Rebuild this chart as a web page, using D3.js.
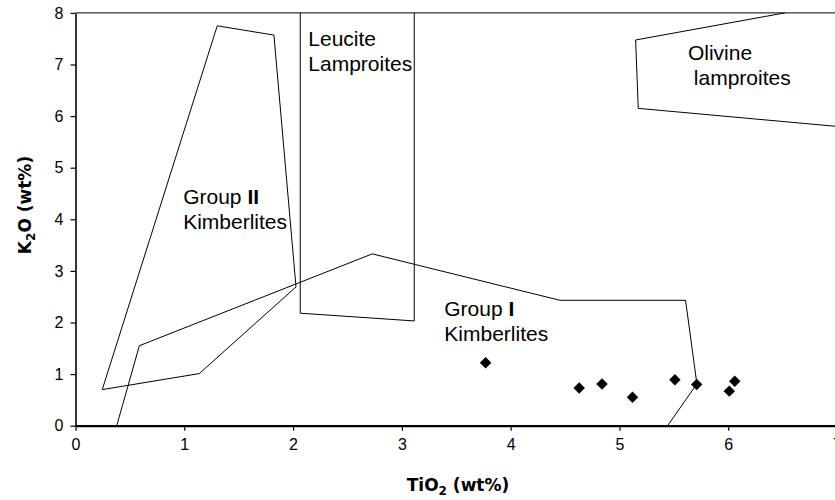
<!DOCTYPE html>
<html>
<head>
<meta charset="utf-8">
<script src="https://cdn.jsdelivr.net/npm/d3@7"></script>
<style>
  html, body { margin: 0; padding: 0; background: #fff; }
  svg { display: block; }
  text { font-family: "Liberation Sans", Arial, sans-serif; fill: #000; }
</style>
</head>
<body>
<svg id="chart" width="835" height="500"></svg>
<script>
// ---- data ----
const xTicks = [0, 1, 2, 3, 4, 5, 6, 7];
const yTicks = [0, 1, 2, 3, 4, 5, 6, 7, 8];

// TiO2, K2O sample points
const sampleTiO2 = [3.77, 4.63, 4.84, 5.12, 5.51, 5.71, 6.01, 6.06];
const sampleK2O  = [1.22, 0.73, 0.81, 0.55, 0.89, 0.80, 0.67, 0.86];

// field boundaries [TiO2, K2O]
const groupIIField   = [[0.246, 0.70], [1.303, 7.75], [1.824, 7.57], [2.027, 2.69], [1.138, 1.01], [0.246, 0.70]];
const groupIField    = [[0.379, 0.0], [0.587, 1.55], [2.728, 3.33], [4.453, 2.43], [5.608, 2.43], [5.712, 0.81], [5.443, 0.0]];
const leuciteField   = [[2.066, 8.0], [2.066, 2.18], [3.114, 2.03], [3.114, 8.0]];
const olivineField   = [[6.52, 8.0], [5.149, 7.475], [5.173, 6.15], [7.0, 5.80]];

// field labels: [TiO2, K2O, line1, line2, romanNumeral]
const fieldLabels = [
  { x: 0.99, y: 4.30, lines: ["Group ", "Kimberlites"], bold: "II" },
  { x: 3.39, y: 2.13, lines: ["Group ", "Kimberlites"], bold: "I" },
  { x: 2.14, y: 7.36, lines: ["Leucite", "Lamproites"], bold: "" },
  { x: 5.63, y: 7.08, lines: ["Olivine", " lamproites"], bold: "" }
];

// ---- drawing ----
const svg = d3.select("#chart");
const x = d3.scaleLinear().domain([0, 7]).range([75.5, 837]);
const y = d3.scaleLinear().domain([0, 8]).range([425.7, 12.9]);

// top border line at K2O = 8
svg.append("line")
  .attr("x1", x(0)).attr("x2", x(7))
  .attr("y1", y(8)).attr("y2", y(8))
  .attr("stroke", "#000").attr("stroke-width", 1);

const line = d3.line().x(d => x(d[0])).y(d => y(d[1]));
[groupIIField, groupIField, leuciteField, olivineField].forEach(f => {
  svg.append("path")
    .attr("d", line(f))
    .attr("fill", "none")
    .attr("stroke", "#000")
    .attr("stroke-width", 1);
});

// axes
const yAxis = svg.append("g")
  .attr("transform", `translate(${x(0)},0)`)
  .call(d3.axisLeft(y).tickValues(yTicks).tickSize(5).tickSizeOuter(0).tickPadding(7).tickFormat(d3.format("d")));
yAxis.select(".domain").attr("stroke-width", 1.6);
yAxis.selectAll(".tick line").attr("stroke-width", 1.2);
yAxis.selectAll("text").style("font-size", "16px").style("font-family", "Liberation Sans, Arial, sans-serif");

const xAxis = svg.append("g")
  .attr("transform", `translate(0,${y(0)})`)
  .call(d3.axisBottom(x).tickValues(xTicks).tickSize(5).tickSizeOuter(0).tickPadding(8).tickFormat(d3.format("d")));
xAxis.select(".domain").attr("stroke-width", 2.2);
xAxis.selectAll(".tick line").attr("stroke-width", 1.2);
xAxis.selectAll("text").style("font-size", "16px").style("font-family", "Liberation Sans, Arial, sans-serif");

// sample points (diamonds)
const diamond = d3.symbol().type(d3.symbolSquare).size(66);
svg.append("g").selectAll("path")
  .data(sampleTiO2.map((t, i) => [t, sampleK2O[i]]))
  .join("path")
  .attr("d", diamond)
  .attr("transform", d => `translate(${x(d[0])},${y(d[1])}) rotate(45)`)
  .attr("fill", "#000");

// field labels
fieldLabels.forEach(l => {
  const t = svg.append("text")
    .attr("x", x(l.x)).attr("y", y(l.y))
    .style("font-size", "21px");
  t.append("tspan").attr("x", x(l.x)).text(l.lines[0]);
  if (l.bold) t.append("tspan").style("font-weight", "bold").text(l.bold);
  t.append("tspan").attr("x", x(l.x)).attr("dy", 25).text(l.lines[1]);
});
svg.selectAll("text").attr("xml:space", "preserve");

// axis titles
const xt = svg.append("text")
  .attr("x", 458).attr("y", 491)
  .attr("text-anchor", "middle")
  .style("font-family", "DejaVu Sans, Verdana, sans-serif")
  .style("font-weight", "bold").style("font-size", "17px");
xt.append("tspan").text("TiO");
xt.append("tspan").attr("dy", 4).style("font-size", "12px").text("2");
xt.append("tspan").attr("dy", -4).text(" (wt%)");

const yt = svg.append("text")
  .attr("transform", "translate(31,205) rotate(-90)")
  .attr("text-anchor", "middle")
  .style("font-family", "DejaVu Sans, Verdana, sans-serif")
  .style("font-weight", "bold").style("font-size", "17px");
yt.append("tspan").text("K");
yt.append("tspan").attr("dy", 4).style("font-size", "12px").text("2");
yt.append("tspan").attr("dy", -4).text("O (wt%)");
</script>
</body>
</html>
